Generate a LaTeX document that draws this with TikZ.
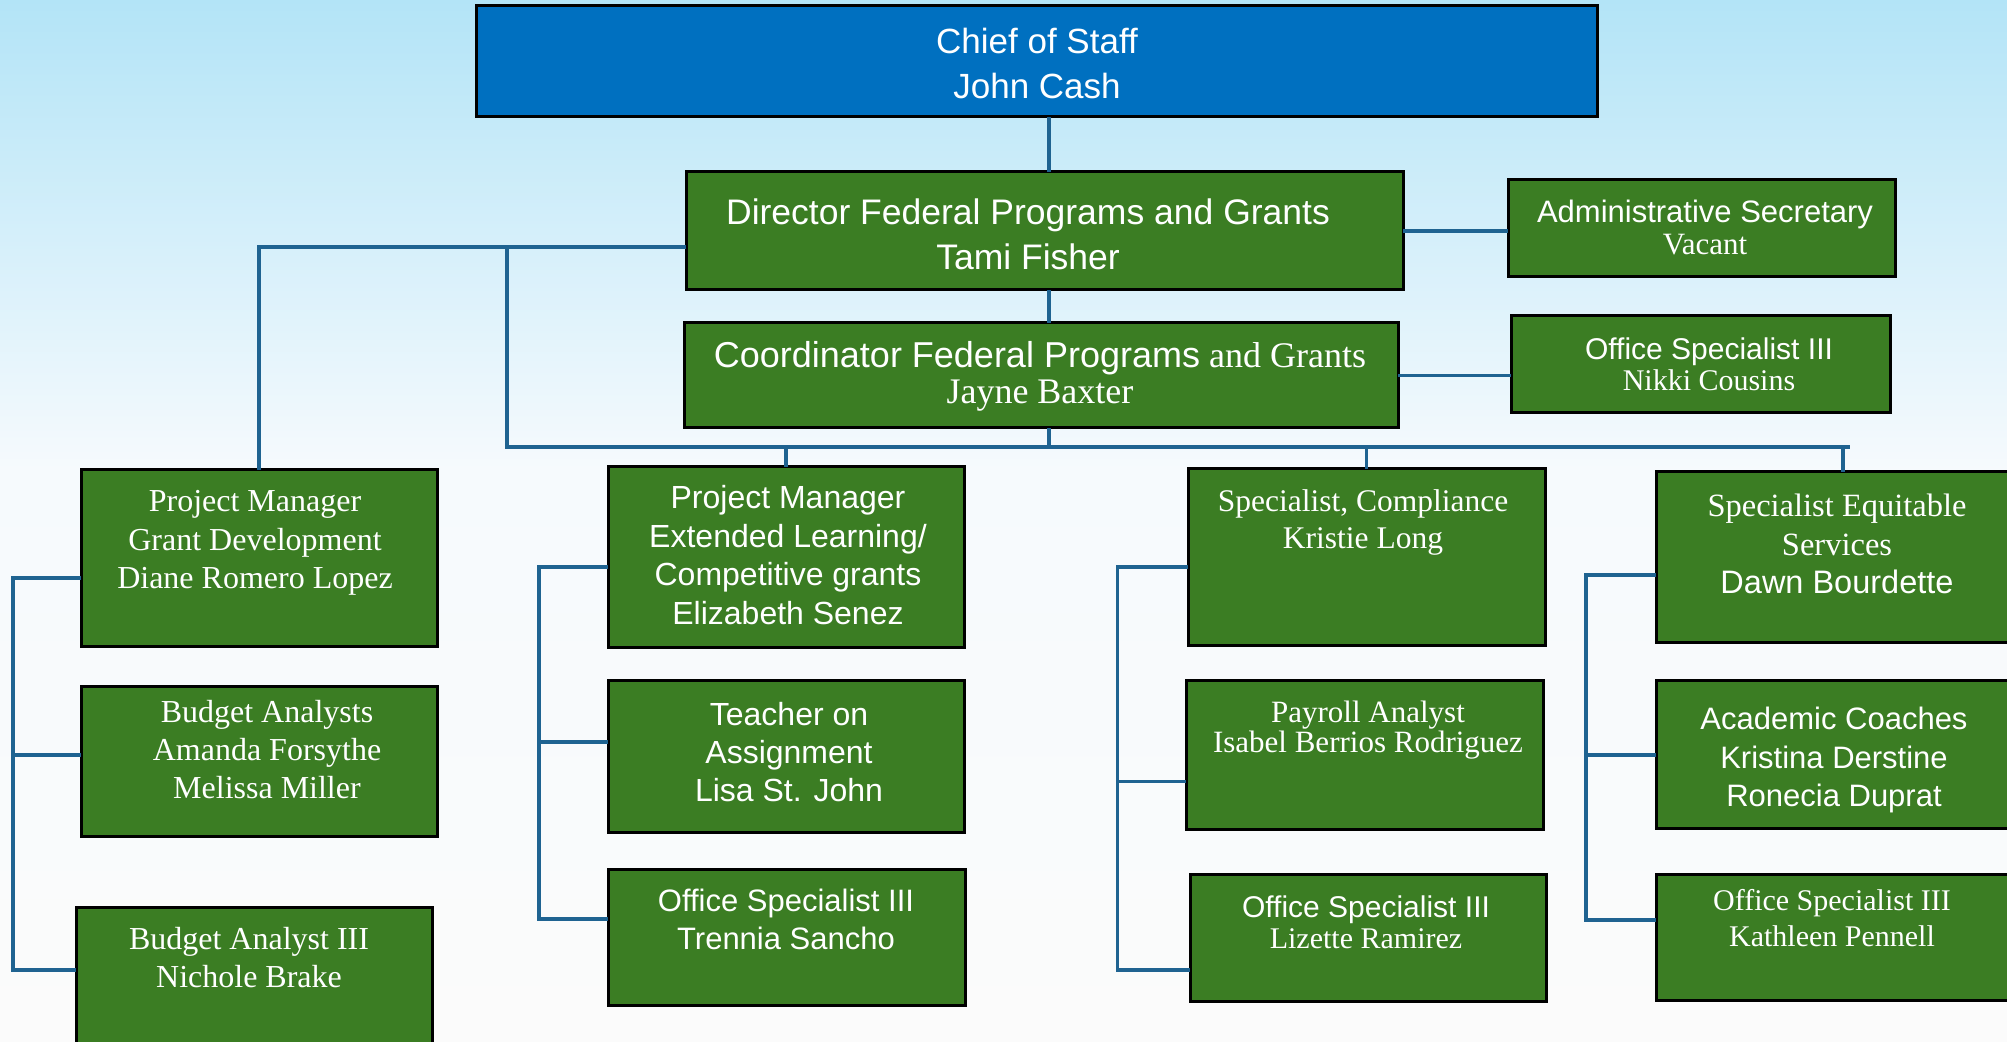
\documentclass[tikz,border=0pt]{standalone}
\usepackage{fontspec}
\setmainfont{Liberation Serif}
\setsansfont{Liberation Sans}
\definecolor{bgtop}{RGB}{179,228,247}
\definecolor{bgmid}{RGB}{246,250,253}
\definecolor{bgbot}{RGB}{251,251,251}
\definecolor{boxgreen}{RGB}{59,125,35}
\definecolor{chiefblue}{RGB}{0,112,192}
\definecolor{conncol}{RGB}{31,99,145}
\pgfdeclareverticalshading{bgshade}{100bp}{color(0bp)=(bgbot); color(25bp)=(bgbot); color(52.5bp)=(bgmid); color(75bp)=(bgtop); color(100bp)=(bgtop)}
\newcommand\fsz[2]{\fontsize{#1}{#2}\selectfont}
\newcommand\orgbox[6][boxgreen]{%
  \node[orgnode, fill=#1, anchor=north west,
        minimum width={(#5-#3)*0.5pt}, minimum height={(#6-#4)*0.5pt}] (#2) at (#3,#4) {};}
\begin{document}
\begin{tikzpicture}[x=0.5pt,y=-0.5pt,
  orgnode/.style={draw=black, line width=1.5pt, inner sep=0pt, outer sep=0pt},
  txt/.style={text=white, anchor=north, align=center, inner sep=0pt},
  conn/.style={draw=conncol, line width=1.75pt}]
\useasboundingbox (0,0) rectangle (2007,1042);
\clip (0,0) rectangle (2007,1042);
\shade[shading=bgshade] (0,0) rectangle (2007,1042);

% boxes
\orgbox[chiefblue]{chief}{476}{6}{1597}{117}
\orgbox{dir}{686}{172}{1403}{290}
\orgbox{admin}{1508}{180}{1895}{277}
\orgbox{coord}{684}{323}{1398}{428}
\orgbox{nikki}{1511}{316}{1890}{413}
\orgbox{pmg}{81}{470}{437}{646}
\orgbox{ba}{81}{686}{437}{836}
\orgbox{bath}{76}{907}{432}{1060}
\orgbox{pme}{608}{467}{964}{647}
\orgbox{tch}{608}{680}{964}{832}
\orgbox{tre}{608}{869}{965}{1005}
\orgbox{spc}{1188}{469}{1545}{645}
\orgbox{pay}{1186}{680}{1543}{829}
\orgbox{liz}{1190}{874}{1546}{1001}
\orgbox{equ}{1656}{472}{2030}{642}
\orgbox{aca}{1656}{680}{2030}{828}
\orgbox{kat}{1656}{874}{2030}{1000}

% texts
\node[txt, font=\sffamily\fsz{17.5}{22.25}] (chiefT) at (1037,28) {Chief of Staff\\John Cash};
\node[txt, font=\sffamily\fsz{17.75}{22.5}] (dirT) at (1028,198) {Director Federal Programs and Grants\\Tami Fisher};
\node[txt, font=\rmfamily\fsz{15.5}{16}] (adminT) at (1705,200) {\textsf{Administrative Secretary}\\Vacant};
\node[txt, font=\rmfamily\fsz{18}{18}] (coordT) at (1040,341) {\textsf{Coordinator Federal Programs} and Grants\\Jayne Baxter};
\node[txt, font=\rmfamily\fsz{15}{15.5}] (nikkiT) at (1709,337) {\textsf{Office Specialist III}\\Nikki Cousins};
\node[txt, font=\rmfamily\fsz{16}{19.25}] (pmgT) at (255,490) {Project Manager\\Grant Development\\Diane Romero Lopez};
\node[txt, font=\rmfamily\fsz{16}{19}] (baT) at (267,700) {Budget Analysts\\Amanda Forsythe\\Melissa Miller};
\node[txt, font=\rmfamily\fsz{16}{18.75}] (bathT) at (249,927) {Budget Analyst III\\Nichole Brake};
\node[txt, font=\sffamily\fsz{16}{19.25}] (pmeT) at (788,485) {Project Manager\\Extended Learning/\\Competitive grants\\Elizabeth Senez};
\node[txt, font=\sffamily\fsz{16}{19}] (tchT) at (789,702) {Teacher on\\Assignment\\Lisa St. John};
\node[txt, font=\sffamily\fsz{15.5}{18.9}] (treT) at (786,889) {Office Specialist III\\Trennia Sancho};
\node[txt, font=\rmfamily\fsz{15.75}{18.75}] (spcT) at (1363,489) {Specialist, Compliance\\Kristie Long};
\node[txt, font=\rmfamily\fsz{15.5}{15}] (payT) at (1368,701) {Payroll Analyst\\Isabel Berrios Rodriguez};
\node[txt, font=\rmfamily\fsz{15}{15.75}] (lizT) at (1366,895) {\textsf{Office Specialist III}\\Lizette Ramirez};
\node[txt, font=\rmfamily\fsz{16.25}{19.25}] (equT) at (1837,494) {Specialist Equitable\\Services\\\textsf{Dawn Bourdette}};
\node[txt, font=\sffamily\fsz{15.5}{19.15}] (acaT) at (1834,707) {Academic Coaches\\Kristina Derstine\\Ronecia Duprat};
\node[txt, font=\rmfamily\fsz{15}{17.75}] (katT) at (1832,889) {Office Specialist III\\Kathleen Pennell};

% connectors
\coordinate (vx) at (1049,0);
\coordinate (dl) at (0,247);
\coordinate (bx) at (507,0);
\coordinate (busL) at (507,447);
\coordinate (busR) at (1850,447);
\draw[conn] (chief.south -| vx) -- (dir.north -| vx);
\draw[conn] (dir.south -| vx) -- (coord.north -| vx);
\draw[conn] (coord.south -| vx) -- (vx |- busL);
\draw[conn] (dir.east) -- (dir.east -| admin.west);
\draw[conn] (coord.east) -- (coord.east -| nikki.west);
\draw[conn] (dir.west |- dl) -| (pmg.north);
\draw[conn] (bx |- dl) -- (busL) -- (busR);
\draw[conn] (pme.north |- busL) -- (pme.north);
\draw[conn] (spc.north |- busL) -- (spc.north);
\draw[conn] (equ.north |- busL) -- (equ.north);

% group buses
\draw[conn] ([yshift=-54pt]pmg.north west) -- ++(-34pt,0) |- ([yshift=-31.5pt]bath.north west);
\draw[conn] ([yshift=-34.5pt]ba.north west) -- ++(-34pt,0);
\draw[conn] ([yshift=-50pt]pme.north west) -- ++(-34.5pt,0) |- ([yshift=-25pt]tre.north west);
\draw[conn] ([yshift=-31pt]tch.north west) -- ++(-34.5pt,0);
\draw[conn] ([yshift=-49pt]spc.north west) -- ++(-35.25pt,0) |- ([yshift=-48pt]liz.north west);
\draw[conn] ([yshift=-50.8pt]pay.north west) -- ++(-34.25pt,0);
\draw[conn] ([yshift=-51.5pt]equ.north west) -- ++(-35pt,0) |- ([yshift=-23pt]kat.north west);
\draw[conn] ([yshift=-37.5pt]aca.north west) -- ++(-35pt,0);
\end{tikzpicture}
\end{document}
